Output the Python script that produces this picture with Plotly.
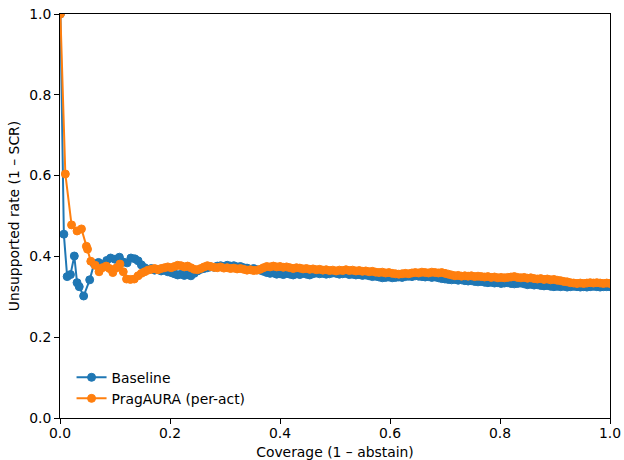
import plotly.graph_objects as go

# Risk–coverage curves: unsupported rate vs. coverage as abstention is relaxed.

# Early (low-coverage) segment of each curve
base_head_cov = [0.0007, 0.007, 0.013, 0.019, 0.026, 0.031, 0.035, 0.043, 0.054,
                 0.062, 0.070, 0.078, 0.085, 0.092, 0.100, 0.108, 0.115, 0.122,
                 0.129, 0.136, 0.142]
base_head_rate = [1.0, 0.455, 0.350, 0.355, 0.401, 0.335, 0.325, 0.302, 0.342,
                  0.382, 0.385, 0.380, 0.390, 0.396, 0.393, 0.398, 0.386, 0.384,
                  0.396, 0.394, 0.389]

prag_head_cov = [0.0007, 0.0097, 0.021, 0.031, 0.039, 0.048, 0.050, 0.056, 0.064,
                 0.071, 0.077, 0.084, 0.090, 0.096, 0.103, 0.109, 0.115, 0.121,
                 0.128, 0.135, 0.142]
prag_head_rate = [1.0, 0.604, 0.478, 0.463, 0.468, 0.425, 0.418, 0.388, 0.378,
                  0.362, 0.372, 0.376, 0.370, 0.360, 0.372, 0.381, 0.362, 0.344,
                  0.343, 0.344, 0.352]

# Remaining coverage levels, shared by both curves
tail_cov = [
    0.148, 0.154, 0.160, 0.166, 0.172, 0.178, 0.184, 0.190, 0.196, 0.202,
    0.208, 0.214, 0.220, 0.226, 0.232, 0.238, 0.244, 0.250, 0.256, 0.262,
    0.268, 0.274, 0.280, 0.286, 0.292, 0.298, 0.304, 0.310, 0.316, 0.322,
    0.328, 0.334, 0.340, 0.346, 0.352, 0.358, 0.364, 0.370, 0.376, 0.382,
    0.388, 0.394, 0.400, 0.406, 0.412, 0.418, 0.424, 0.430, 0.436, 0.442,
    0.448, 0.454, 0.460, 0.466, 0.472, 0.478, 0.484, 0.490, 0.496, 0.502,
    0.508, 0.514, 0.520, 0.526, 0.532, 0.538, 0.544, 0.550, 0.556, 0.562,
    0.568, 0.574, 0.580, 0.586, 0.592, 0.598, 0.604, 0.610, 0.616, 0.622,
    0.628, 0.634, 0.640, 0.646, 0.652, 0.658, 0.664, 0.670, 0.676, 0.682,
    0.688, 0.694, 0.700, 0.706, 0.712, 0.718, 0.724, 0.730, 0.736, 0.742,
    0.748, 0.754, 0.760, 0.766, 0.772, 0.778, 0.784, 0.790, 0.796, 0.802,
    0.808, 0.814, 0.820, 0.826, 0.832, 0.838, 0.844, 0.850, 0.856, 0.862,
    0.868, 0.874, 0.880, 0.886, 0.892, 0.898, 0.904, 0.910, 0.916, 0.922,
    0.928, 0.934, 0.940, 0.946, 0.952, 0.958, 0.964, 0.970, 0.976, 0.982,
    0.988, 0.994, 1.000,
]

base_tail_rate = [
    0.379, 0.372, 0.368, 0.370, 0.366, 0.368, 0.364, 0.366, 0.362, 0.360,
    0.357, 0.354, 0.356, 0.353, 0.355, 0.352, 0.358, 0.364, 0.368, 0.370,
    0.372, 0.374, 0.373, 0.376, 0.377, 0.375, 0.378, 0.376, 0.377, 0.374,
    0.375, 0.372, 0.371, 0.368, 0.370, 0.367, 0.366, 0.363, 0.360, 0.358,
    0.359, 0.356, 0.357, 0.355, 0.358, 0.356, 0.354, 0.357, 0.355, 0.358,
    0.356, 0.354, 0.357, 0.359, 0.357, 0.358, 0.356, 0.357, 0.359, 0.358,
    0.356, 0.357, 0.358, 0.355, 0.356, 0.354, 0.355, 0.353, 0.354, 0.352,
    0.350, 0.351, 0.349, 0.347, 0.348, 0.349, 0.347, 0.348, 0.349, 0.348,
    0.350, 0.351, 0.350, 0.352, 0.351, 0.350, 0.349, 0.350, 0.348, 0.349,
    0.347, 0.345, 0.344, 0.343, 0.342, 0.343, 0.341, 0.342, 0.340, 0.339,
    0.340, 0.338, 0.337, 0.338, 0.336, 0.335, 0.336, 0.334, 0.335, 0.333,
    0.334, 0.335, 0.333, 0.332, 0.333, 0.334, 0.332, 0.330, 0.331, 0.329,
    0.330, 0.328, 0.327, 0.328, 0.326, 0.325, 0.326, 0.325, 0.326, 0.324,
    0.325, 0.326, 0.325, 0.324, 0.325, 0.324, 0.325, 0.326, 0.325, 0.324,
    0.325, 0.325, 0.325,
]

prag_tail_rate = [
    0.358, 0.362, 0.366, 0.368, 0.370, 0.367, 0.370, 0.372, 0.374, 0.372,
    0.375, 0.378, 0.377, 0.374, 0.376, 0.372, 0.368, 0.367, 0.370, 0.374,
    0.377, 0.375, 0.373, 0.372, 0.374, 0.371, 0.372, 0.370, 0.371, 0.369,
    0.370, 0.368, 0.366, 0.367, 0.365, 0.366, 0.368, 0.372, 0.375, 0.374,
    0.376, 0.374, 0.375, 0.373, 0.374, 0.372, 0.370, 0.372, 0.371, 0.369,
    0.370, 0.368, 0.369, 0.367, 0.368, 0.366, 0.367, 0.365, 0.366, 0.364,
    0.366, 0.365, 0.367, 0.365, 0.366, 0.364, 0.365, 0.363, 0.364, 0.362,
    0.363, 0.361, 0.360, 0.361, 0.359, 0.360, 0.358, 0.357, 0.356, 0.357,
    0.358, 0.357, 0.359, 0.360, 0.359, 0.361, 0.360, 0.359, 0.361, 0.360,
    0.359, 0.360, 0.358, 0.356, 0.354, 0.352, 0.353, 0.351, 0.352, 0.351,
    0.352, 0.350, 0.351, 0.350, 0.349, 0.350, 0.348, 0.349, 0.347, 0.348,
    0.347, 0.348, 0.349, 0.350, 0.348, 0.347, 0.348, 0.346, 0.347, 0.345,
    0.344, 0.345, 0.343, 0.344, 0.342, 0.343, 0.341, 0.340, 0.338, 0.337,
    0.335, 0.334, 0.333, 0.334, 0.333, 0.334, 0.335, 0.334, 0.335, 0.334,
    0.333, 0.334, 0.333,
]

assert len(tail_cov) == len(base_tail_rate) == len(prag_tail_rate)

series = [
    ("Baseline", base_head_cov + tail_cov, base_head_rate + base_tail_rate, "#1f77b4"),
    ("PragAURA (per-act)", prag_head_cov + tail_cov, prag_head_rate + prag_tail_rate, "#ff7f0e"),
]

tick_vals = [0.0, 0.2, 0.4, 0.6, 0.8, 1.0]
tick_text = ["0.0", "0.2", "0.4", "0.6", "0.8", "1.0"]

FONT_SIZE = 13.9

fig = go.Figure()
for name, cov, rate, color in series:
    fig.add_trace(go.Scatter(
        x=cov, y=rate, name=name, mode="lines+markers",
        line=dict(color=color, width=2),
        marker=dict(color=color, size=8, line=dict(color=color, width=1)),
    ))

axis_common = dict(
    range=[0, 1], tickvals=tick_vals, ticktext=tick_text,
    showgrid=False, zeroline=False, automargin=False,
    showline=True, linecolor="black", linewidth=1, mirror=True,
    ticks="outside", ticklen=5, tickwidth=1, tickcolor="black",
    tickfont=dict(size=FONT_SIZE, color="black"),
)

fig.update_layout(
    width=624, height=460,
    margin=dict(l=60, r=14, t=14, b=42),
    paper_bgcolor="white", plot_bgcolor="white",
    font=dict(family="DejaVu Sans", size=FONT_SIZE, color="black"),
    xaxis=dict(title=dict(text="Coverage (1 – abstain)", font=dict(size=FONT_SIZE), standoff=7),
               ticklabelstandoff=-3, **axis_common),
    yaxis=dict(title=dict(text="Unsupported rate (1 – SCR)", font=dict(size=FONT_SIZE), standoff=6),
               **axis_common),
    legend=dict(x=0.021, y=0.008, xanchor="left", yanchor="bottom",
                bgcolor="rgba(255,255,255,0)", font=dict(size=FONT_SIZE),
                itemwidth=30, tracegroupgap=0),
    showlegend=True,
)

fig.write_html("out.html")
